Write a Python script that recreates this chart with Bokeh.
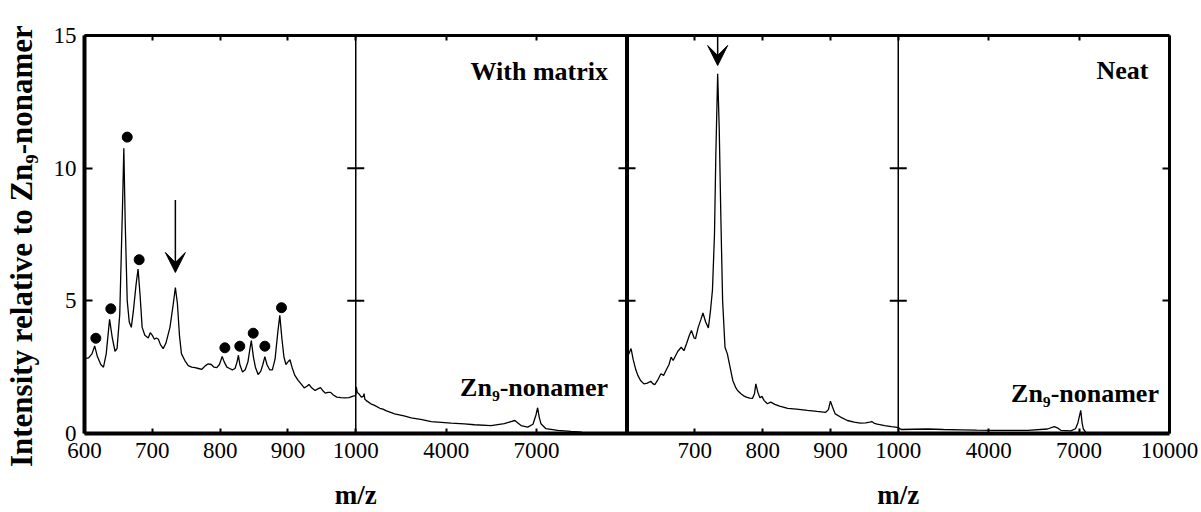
from bokeh.plotting import figure
from bokeh.models import (LinearAxis, FixedTicker, Span, Label, Arrow, VeeHead, Range1d)
from bokeh.layouts import column
from bokeh.core.properties import value
from bokeh.embed import file_html
from bokeh.resources import INLINE

# ---------------- data ----------------
matrix_mz = [600, 606, 611, 615, 619, 624, 628, 632, 637, 641, 645, 648, 652, 656, 658, 660,
             663, 666, 669, 672, 676, 679, 682, 685, 689, 694, 697, 700, 703, 706, 709, 712,
             716, 720, 726, 731, 734, 737, 740, 743, 748, 753, 758, 763, 768, 773, 778, 782,
             787, 791, 795, 799, 803, 806, 810, 814, 818, 822, 825, 827, 829, 833, 837, 841,
             844, 846, 849, 852, 856, 860, 863, 866, 869, 873, 877, 881, 885, 888, 891, 894,
             897, 900, 903, 906, 910, 915, 920, 924, 928, 931, 935, 940, 944, 948, 952, 955,
             959, 963, 967, 972, 978, 984, 990, 995, 999, 1000,
             1010, 1020, 1050, 1100, 1185, 1250, 1275, 1300, 1350, 1500, 1625, 1800, 1900,
             2000, 2290, 2600, 2840, 3200, 3500, 4165, 4600, 4940, 5490, 5930, 6150, 6280,
             6400, 6485, 6705, 6880, 6980, 7035, 7090, 7145, 7310, 7700, 8140, 8500]
matrix_int = [2.82, 2.85, 3.0, 3.3, 2.9, 2.6, 2.5, 3.0, 4.3, 3.6, 3.1, 3.2, 4.5, 8.5, 10.75, 8.0,
              5.0, 4.2, 4.0, 4.6, 5.6, 6.2, 5.2, 4.0, 3.7, 3.6, 3.8, 3.7, 3.55, 3.6, 3.55, 3.35,
              3.2, 3.4, 4.0, 4.9, 5.5, 4.9, 3.7, 3.0, 2.75, 2.56, 2.5, 2.48, 2.45, 2.42, 2.55, 2.62,
              2.6, 2.5, 2.48, 2.6, 2.9, 2.7, 2.5, 2.45, 2.4, 2.45, 2.7, 2.95, 2.6, 2.32, 2.4, 2.7,
              3.2, 3.5, 2.9, 2.5, 2.22, 2.35, 2.6, 2.9, 2.6, 2.4, 2.4, 2.8, 3.8, 4.45, 3.6, 2.9,
              2.6, 2.7, 2.78, 2.5, 2.2, 2.0, 1.85, 1.72, 1.78, 1.85, 1.72, 1.62, 1.68, 1.73, 1.6, 1.52,
              1.55, 1.55, 1.45, 1.37, 1.35, 1.34, 1.35, 1.4, 1.43, 1.45,
              1.6, 1.75, 1.55, 1.5, 1.37, 1.4, 1.5, 1.3, 1.24, 1.12, 1.06, 0.95, 0.92,
              0.86, 0.74, 0.66, 0.59, 0.52, 0.45, 0.39, 0.36, 0.33, 0.3, 0.37, 0.45, 0.49,
              0.38, 0.3, 0.24, 0.35, 0.7, 0.97, 0.6, 0.37, 0.18, 0.12, 0.08, 0.05]

neat_mz = [601, 606, 609, 613, 616, 620, 625, 630, 635, 638, 641, 645, 650, 654, 658, 662,
           665, 668, 671, 675, 680, 684, 688, 692, 695, 699, 701, 705, 709, 712, 716, 720,
           723, 726, 729, 731, 733.7, 736, 738.5, 741, 744.5, 748, 752, 756, 760, 763, 768,
           772, 776, 781, 785, 788, 790, 793, 796, 799, 802, 807, 812, 818, 825, 837, 850,
           866, 880, 893, 897, 900, 903, 907, 915, 925, 935, 944, 952, 958, 961, 965, 969,
           980, 990, 996, 1000,
           1100, 1500, 1980, 2500, 3085, 3600, 4190, 4800, 5290, 5950, 6175, 6300, 6395,
           6725, 6880, 6960, 7055, 7100, 7140, 7220]
neat_int = [2.9, 3.2, 2.8, 2.4, 2.19, 2.0, 1.87, 1.9, 1.97, 1.88, 1.84, 2.0, 2.25, 2.19, 2.4, 2.6,
            2.88, 2.75, 2.9, 3.1, 3.25, 3.12, 3.4, 3.7, 3.88, 3.6, 3.57, 4.0, 4.3, 4.54, 4.2, 3.98,
            4.6, 5.4, 7.5, 10.5, 13.56, 11.5, 8.03, 5.0, 3.25, 3.0, 2.5, 2.0, 1.75, 1.62, 1.5,
            1.42, 1.37, 1.33, 1.32, 1.5, 1.87, 1.55, 1.35, 1.4, 1.25, 1.12, 1.18, 1.1, 1.03, 0.95, 0.92,
            0.87, 0.83, 0.8, 0.9, 1.22, 1.0, 0.74, 0.62, 0.49, 0.43, 0.39, 0.4, 0.43, 0.45, 0.38, 0.35,
            0.3, 0.26, 0.24, 0.22,
            0.15, 0.16, 0.17, 0.15, 0.14, 0.13, 0.12, 0.12, 0.12, 0.17, 0.26, 0.2, 0.12,
            0.1, 0.18, 0.4, 0.87, 0.4, 0.17, 0.05]

# peaks marked with filled circles (With matrix panel)
dot_mz = [616.7, 638.8, 663, 680.6, 807, 829, 848.8, 866, 890.5]
dot_int = [3.59, 4.7, 11.17, 6.55, 3.23, 3.29, 3.78, 3.29, 4.74]

# arrows: [m/z, start intensity, end intensity]
arrow_matrix = [734, 8.8, 6.07]
arrow_neat = [733.7, 15.0, 13.87]

# axis ticks
x_ticks_low = [600, 700, 800, 900, 1000]
x_ticks_high = [4000, 7000, 10000]
x_labels_matrix = ["600", "700", "800", "900", "1000", "4000", "7000", ""]
x_labels_neat = ["", "700", "800", "900", "1000", "4000", "7000", "10000"]
y_ticks = [0, 5, 10, 15]
y_cross_ticks = [5, 10]
x_title = "m/z"
y_title = "Intensity  relative  to  Zn\u2089-nonamer"

FONT = "Liberation Serif"
BL, BR, BT = 83, 31, 35
W = 1200


def to_u(mz, panel):
    """Broken m/z axis: 600-1000 and 1000-10000 each take half of a panel."""
    base = 2 * panel
    if mz <= 1000:
        return base + (mz - 600) / 400.0
    return base + 1 + (mz - 1000) / 9000.0


p = figure(width=W, height=478, x_range=Range1d(0, 4), y_range=Range1d(0, 15),
           x_axis_type=None, y_axis_type=None, output_backend="svg",
           toolbar_location=None, min_border_left=BL, min_border_right=BR,
           min_border_top=BT, min_border_bottom=45, outline_line_color=None)

# ---------- x ticks ----------
all_ticks = []
overrides = {}
empty = {}
for panel, labels in ((0, x_labels_matrix), (1, x_labels_neat)):
    for mz, lab in zip(x_ticks_low + x_ticks_high, labels):
        u = to_u(mz, panel)
        if u in overrides and overrides[u]:
            continue
        all_ticks.append(u)
        overrides[u] = lab
        empty[u] = ""
all_ticks = sorted(set(all_ticks))

xb = LinearAxis(ticker=FixedTicker(ticks=all_ticks), major_label_overrides=overrides,
                axis_line_width=4, major_tick_in=5, major_tick_out=0,
                major_tick_line_width=2, minor_tick_line_color=None,
                major_label_standoff=9, major_label_text_font=FONT,
                major_label_text_font_size="23px", major_label_text_color="black")
p.add_layout(xb, "below")

xt = LinearAxis(ticker=FixedTicker(ticks=all_ticks), major_label_overrides=empty,
                axis_line_width=3, major_tick_in=5, major_tick_out=0,
                major_tick_line_width=2, minor_tick_line_color=None,
                major_label_standoff=0, major_label_text_font_size="6px")
p.add_layout(xt, "above")

yl = LinearAxis(ticker=FixedTicker(ticks=y_ticks), axis_line_width=4,
                major_tick_in=8, major_tick_out=0, major_tick_line_width=2,
                minor_tick_line_color=None, major_label_standoff=8,
                major_label_text_font=FONT, major_label_text_font_size="23px",
                major_label_text_color="black",
                axis_label=y_title, axis_label_text_color="black",
                axis_label_text_font=FONT, axis_label_text_font_style="bold",
                axis_label_text_font_size="31px", axis_label_standoff=12)
p.add_layout(yl, "left")

yr = LinearAxis(ticker=FixedTicker(ticks=y_cross_ticks),
                major_label_overrides={t: "" for t in y_cross_ticks},
                axis_line_width=3, major_tick_in=7, major_tick_out=0,
                major_tick_line_width=2, minor_tick_line_color=None,
                major_label_standoff=0, major_label_text_font_size="6px")
p.add_layout(yr, "right")

# ---------- panel separator and 1000 break lines ----------
p.add_layout(Span(location=to_u(600, 1), dimension="height", line_color="black", line_width=4))
for panel in (0, 1):
    p.add_layout(Span(location=to_u(1000, panel), dimension="height",
                      line_color="black", line_width=1.5))

cross_x = []
cross_y = []
for ux in (to_u(1000, 0), to_u(600, 1), to_u(1000, 1)):
    for yv in y_cross_ticks:
        cross_x.append(ux)
        cross_y.append(yv)
p.scatter(cross_x, cross_y, marker="dash", size=17, line_width=2, line_color="black")

# ---------- spectra ----------
p.line([to_u(m, 0) for m in matrix_mz], matrix_int, line_color="black", line_width=1.3)
p.line([to_u(m, 1) for m in neat_mz], neat_int, line_color="black", line_width=1.3)

p.scatter([to_u(m, 0) for m in dot_mz], dot_int, size=10, marker="circle",
          fill_color="black", line_color="black")

for panel, (amz, y0, y1) in ((0, arrow_matrix), (1, arrow_neat)):
    ux = to_u(amz, panel)
    p.add_layout(Arrow(end=VeeHead(size=20, fill_color="black", line_color="black"),
                       x_start=ux, y_start=y0, x_end=ux, y_end=y1,
                       line_color="black", line_width=1.5))

# ---------- texts ----------
txt = dict(text_font=FONT, text_font_style="bold", text_font_size="26px",
           text_color="black", text_align="right", text_baseline="alphabetic")
p.add_layout(Label(x=to_u(9370, 0), y=13.65, text="With matrix", **txt))
p.add_layout(Label(x=to_u(9300, 1), y=13.68, text="Neat", **txt))
p.add_layout(Label(x=to_u(9370, 0), y=1.73, text="Zn\u2089-nonamer", **txt))
p.add_layout(Label(x=to_u(9650, 1), y=1.5, text="Zn\u2089-nonamer", **txt))

# ---------- x-axis titles ("m/z" under each panel's break) ----------
p2 = figure(width=W, height=32, x_range=p.x_range, y_range=Range1d(0, 1),
            x_axis_type=None, y_axis_type=None, output_backend="svg",
            toolbar_location=None, min_border_left=BL, min_border_right=BR,
            min_border_top=0, min_border_bottom=0, outline_line_color=None)
p2.text(x=[to_u(1000, 0), to_u(1000, 1)], y=[0.5, 0.5], text=[x_title, x_title],
        text_font=value(FONT), text_font_style="bold", text_font_size="27px",
        text_color="black", text_align="center", text_baseline="middle")

layout = column(p, p2, spacing=0)
open("out.html", "w").write(file_html(layout, INLINE))
